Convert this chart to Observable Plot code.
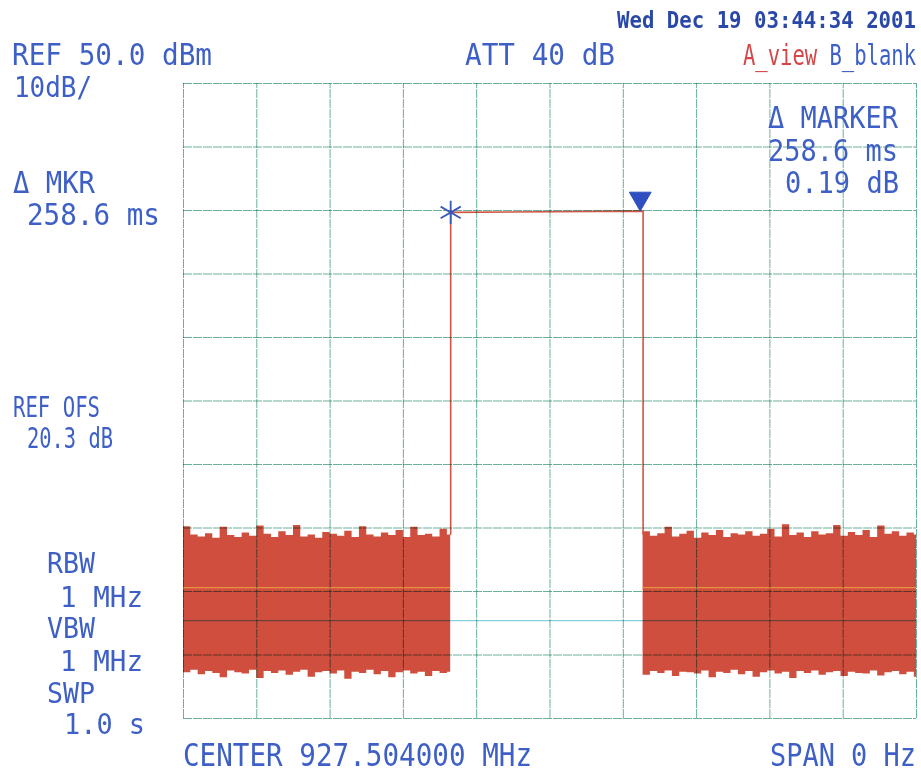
<!DOCTYPE html>
<html><head><meta charset="utf-8">
<script src="https://cdn.jsdelivr.net/npm/d3@7"></script>
<script src="https://cdn.jsdelivr.net/npm/@observablehq/plot@0.6"></script>
<style>body{margin:0;background:#fff;} #chart svg{display:block;}</style>
</head><body><div id="chart"></div>
<script>
// graticule (ms along x, dBm along y)
const timeGrid = [0,100,200,300,400,500,600,700,800,900,1000];
const levelGrid = [-50,-40,-30,-20,-10,0,10,20,30,40,50];

// noise envelope, left block (before burst)
const leftT  = [0,10,20,30,40,50,60,70,80,90,100,110,120,130,140,150,160,170,180,190,200,210,220,230,240,250,260,270,280,290,300,310,320,330,340,350,360,364.5];
const leftHi = [-19.8,-21.1,-21.4,-20.9,-21.6,-19.9,-21.2,-21.5,-20.8,-21.3,-19.7,-21.0,-21.5,-20.6,-21.2,-19.6,-21.4,-21.1,-21.6,-20.7,-21.0,-21.3,-20.5,-21.5,-19.8,-21.1,-21.4,-20.8,-21.2,-20.4,-21.5,-19.9,-21.2,-21.0,-21.4,-20.2,-21.1,-21.1];
const leftLo = [-42.8,-42.4,-43.1,-42.6,-42.9,-43.6,-42.5,-42.8,-43.0,-42.4,-43.7,-42.6,-42.9,-42.5,-43.2,-42.7,-42.4,-43.5,-42.8,-42.6,-43.0,-42.5,-43.8,-42.7,-42.9,-42.4,-43.1,-42.6,-43.6,-42.8,-42.5,-43.0,-42.7,-43.4,-42.6,-42.9,-42.7,-42.7];

// noise envelope, right block (after burst)
const rightT  = [627,637,647,657,667,677,687,697,707,717,727,737,747,757,767,777,787,797,807,817,827,837,847,857,867,877,887,897,907,917,927,937,947,957,967,977,987,997,1000];
const rightHi = [-20.6,-21.3,-20.9,-19.9,-21.4,-21.0,-20.5,-21.6,-20.8,-21.2,-20.4,-21.5,-20.9,-21.1,-20.6,-21.3,-21.0,-20.2,-21.4,-19.5,-21.2,-20.8,-21.5,-20.6,-21.1,-20.9,-19.6,-21.3,-20.7,-21.2,-20.4,-21.5,-19.7,-21.0,-20.6,-21.3,-20.8,-21.1,-21.1];
const rightLo = [-43.2,-42.6,-42.9,-42.5,-43.4,-42.7,-42.8,-43.0,-42.5,-43.6,-42.7,-42.9,-42.4,-43.1,-42.6,-43.5,-42.8,-42.5,-43.0,-42.7,-43.7,-42.6,-42.9,-42.5,-43.2,-42.8,-42.6,-43.4,-42.7,-42.9,-43.0,-42.5,-43.3,-42.8,-42.6,-43.1,-42.7,-43.5,-43.5];

// burst trace
const burstT = [364.5, 364.5, 627, 627];
const burstV = [-21.0, 29.7, 29.9, -21.0];

// markers: reference (asterisk) and delta (triangle)
const markerT = [364.5, 623.1];
const markerV = [29.7, 29.89];

// display line and yellow line
const displayLine = -34.6;
const yellowLine = -29.4;

// annotation texts
const texts = {
  ref: "REF 50.0 dBm", scale: "10dB/", date: "Wed Dec 19 03:44:34 2001", att: "ATT 40 dB",
  aview: "A_view", bblank: "B_blank",
  mkrA: "Δ MKR", mkrB: "258.6 ms", ofsA: "REF OFS", ofsB: "20.3 dB",
  markA: "Δ MARKER", markB: "258.6 ms", markC: "0.19 dB",
  rbwA: "RBW", rbwB: "1 MHz", vbwA: "VBW", vbwB: "1 MHz", swpA: "SWP", swpB: "1.0 s",
  center: "CENTER 927.504000 MHz", span: "SPAN 0 Hz"
};

const noise = [
  ...leftT.map((t,i)=>({block:"L", t, hi:leftHi[i], lo:leftLo[i]})),
  ...rightT.map((t,i)=>({block:"R", t, hi:rightHi[i], lo:rightLo[i]}))
];
const burst = burstT.map((t,i)=>({t, v:burstV[i]}));
const markers = markerT.map((t,i)=>({t, v:markerV[i]}));

const gridColor = "#5aa892";
const red = "#d04e3e";
const blue = "#3d5fc6";

const plot = Plot.plot({
  width: 921, height: 773,
  marginLeft: 183, marginRight: 5, marginTop: 83, marginBottom: 55,
  x: {domain: [0, 1000], axis: null},
  y: {domain: [-50, 50], axis: null},
  style: {background: "#fff", overflow: "visible"},
  marks: [
    Plot.areaY(noise, {x: "t", y1: "lo", y2: "hi", z: "block", curve: "step-after", fill: red}),
    Plot.line(burst, {x: "t", y: "v", stroke: "#cf5646", strokeWidth: 1.6}),
    Plot.ruleY([yellowLine], {x1: 0, x2: 364.5, stroke: "#f0b040", strokeWidth: 1.2, strokeOpacity: 0.7}),
    Plot.ruleY([yellowLine], {x1: 627, x2: 1000, stroke: "#f0b040", strokeWidth: 1.2, strokeOpacity: 0.7}),
    Plot.ruleY([displayLine], {x1: 0, x2: 1000, stroke: "#86cfe0", strokeWidth: 1.2, mixBlendMode: "multiply"}),
    Plot.ruleX(timeGrid, {y1: -50, y2: 50, stroke: gridColor, strokeWidth: 1, strokeDasharray: "9,1", strokeOpacity: 0.9, mixBlendMode: "multiply"}),
    Plot.ruleY(levelGrid, {x1: 0, x2: 1000, stroke: gridColor, strokeWidth: 1, strokeDasharray: "9,1", strokeOpacity: 0.9, mixBlendMode: "multiply"}),
    Plot.dot([markers[0]], {x: "t", y: "v", symbol: "asterisk", r: 11, stroke: "#3a58b8", strokeWidth: 1.8}),
    Plot.dot([markers[1]], {x: "t", y: "v", symbol: "triangle", rotate: 180, r: 8.1, dy: -12.7, fill: "#2f4fc0", stroke: "#2f4fc0", strokeWidth: 1})
  ]
});

const svg = d3.select(plot);
// [text, x, baseline, width, fontSize, color, weight]
const layout = [
  [texts.ref, 12, 65, 200, 30, blue, 400],
  [texts.scale, 14, 97, 78, 29, blue, 400],
  [texts.date, 617, 28, 299, 23, "#2a48a8", 600],
  [texts.att, 465, 65, 150, 31, blue, 400],
  [texts.mkrA, 13, 193, 82, 30, blue, 400],
  [texts.mkrB, 27, 225, 133, 30, blue, 400],
  [texts.ofsA, 13, 417, 87, 29, blue, 400],
  [texts.ofsB, 27, 448, 86, 29, blue, 400],
  [texts.markA, 768, 128, 130, 30, blue, 400],
  [texts.markB, 768, 161, 130, 30, blue, 400],
  [texts.markC, 785, 193, 114, 30, blue, 400],
  [texts.rbwA, 47, 573, 48, 29, blue, 400],
  [texts.rbwB, 60, 607, 83, 29, blue, 400],
  [texts.vbwA, 47, 638, 48, 29, blue, 400],
  [texts.vbwB, 60, 671, 83, 29, blue, 400],
  [texts.swpA, 47, 703, 48, 29, blue, 400],
  [texts.swpB, 64, 734, 81, 29, blue, 400],
  [texts.center, 183, 766, 349, 32, blue, 400],
  [texts.span, 770, 766, 146, 32, blue, 400]
];
const fam = "'DejaVu Sans Mono', monospace";
for (const [t, x, y, w, fs, c, fw] of layout) {
  svg.append("text")
    .attr("x", x).attr("y", y)
    .attr("text-anchor", "start")
    .attr("textLength", w).attr("lengthAdjust", "spacingAndGlyphs")
    .attr("font-family", fam)
    .attr("font-size", fs).attr("font-weight", fw)
    .attr("fill", c)
    .text(t);
}
// trace-status line: two colours in one text
const status = svg.append("text")
  .attr("x", 743).attr("y", 65)
  .attr("text-anchor", "start")
  .attr("textLength", 173).attr("lengthAdjust", "spacingAndGlyphs")
  .attr("font-family", fam).attr("font-size", 29);
status.append("tspan").attr("fill", "#d24848").text(texts.aview);
status.append("tspan").attr("fill", blue).text(" " + texts.bblank);

document.getElementById("chart").appendChild(plot);
</script>
</body></html>
